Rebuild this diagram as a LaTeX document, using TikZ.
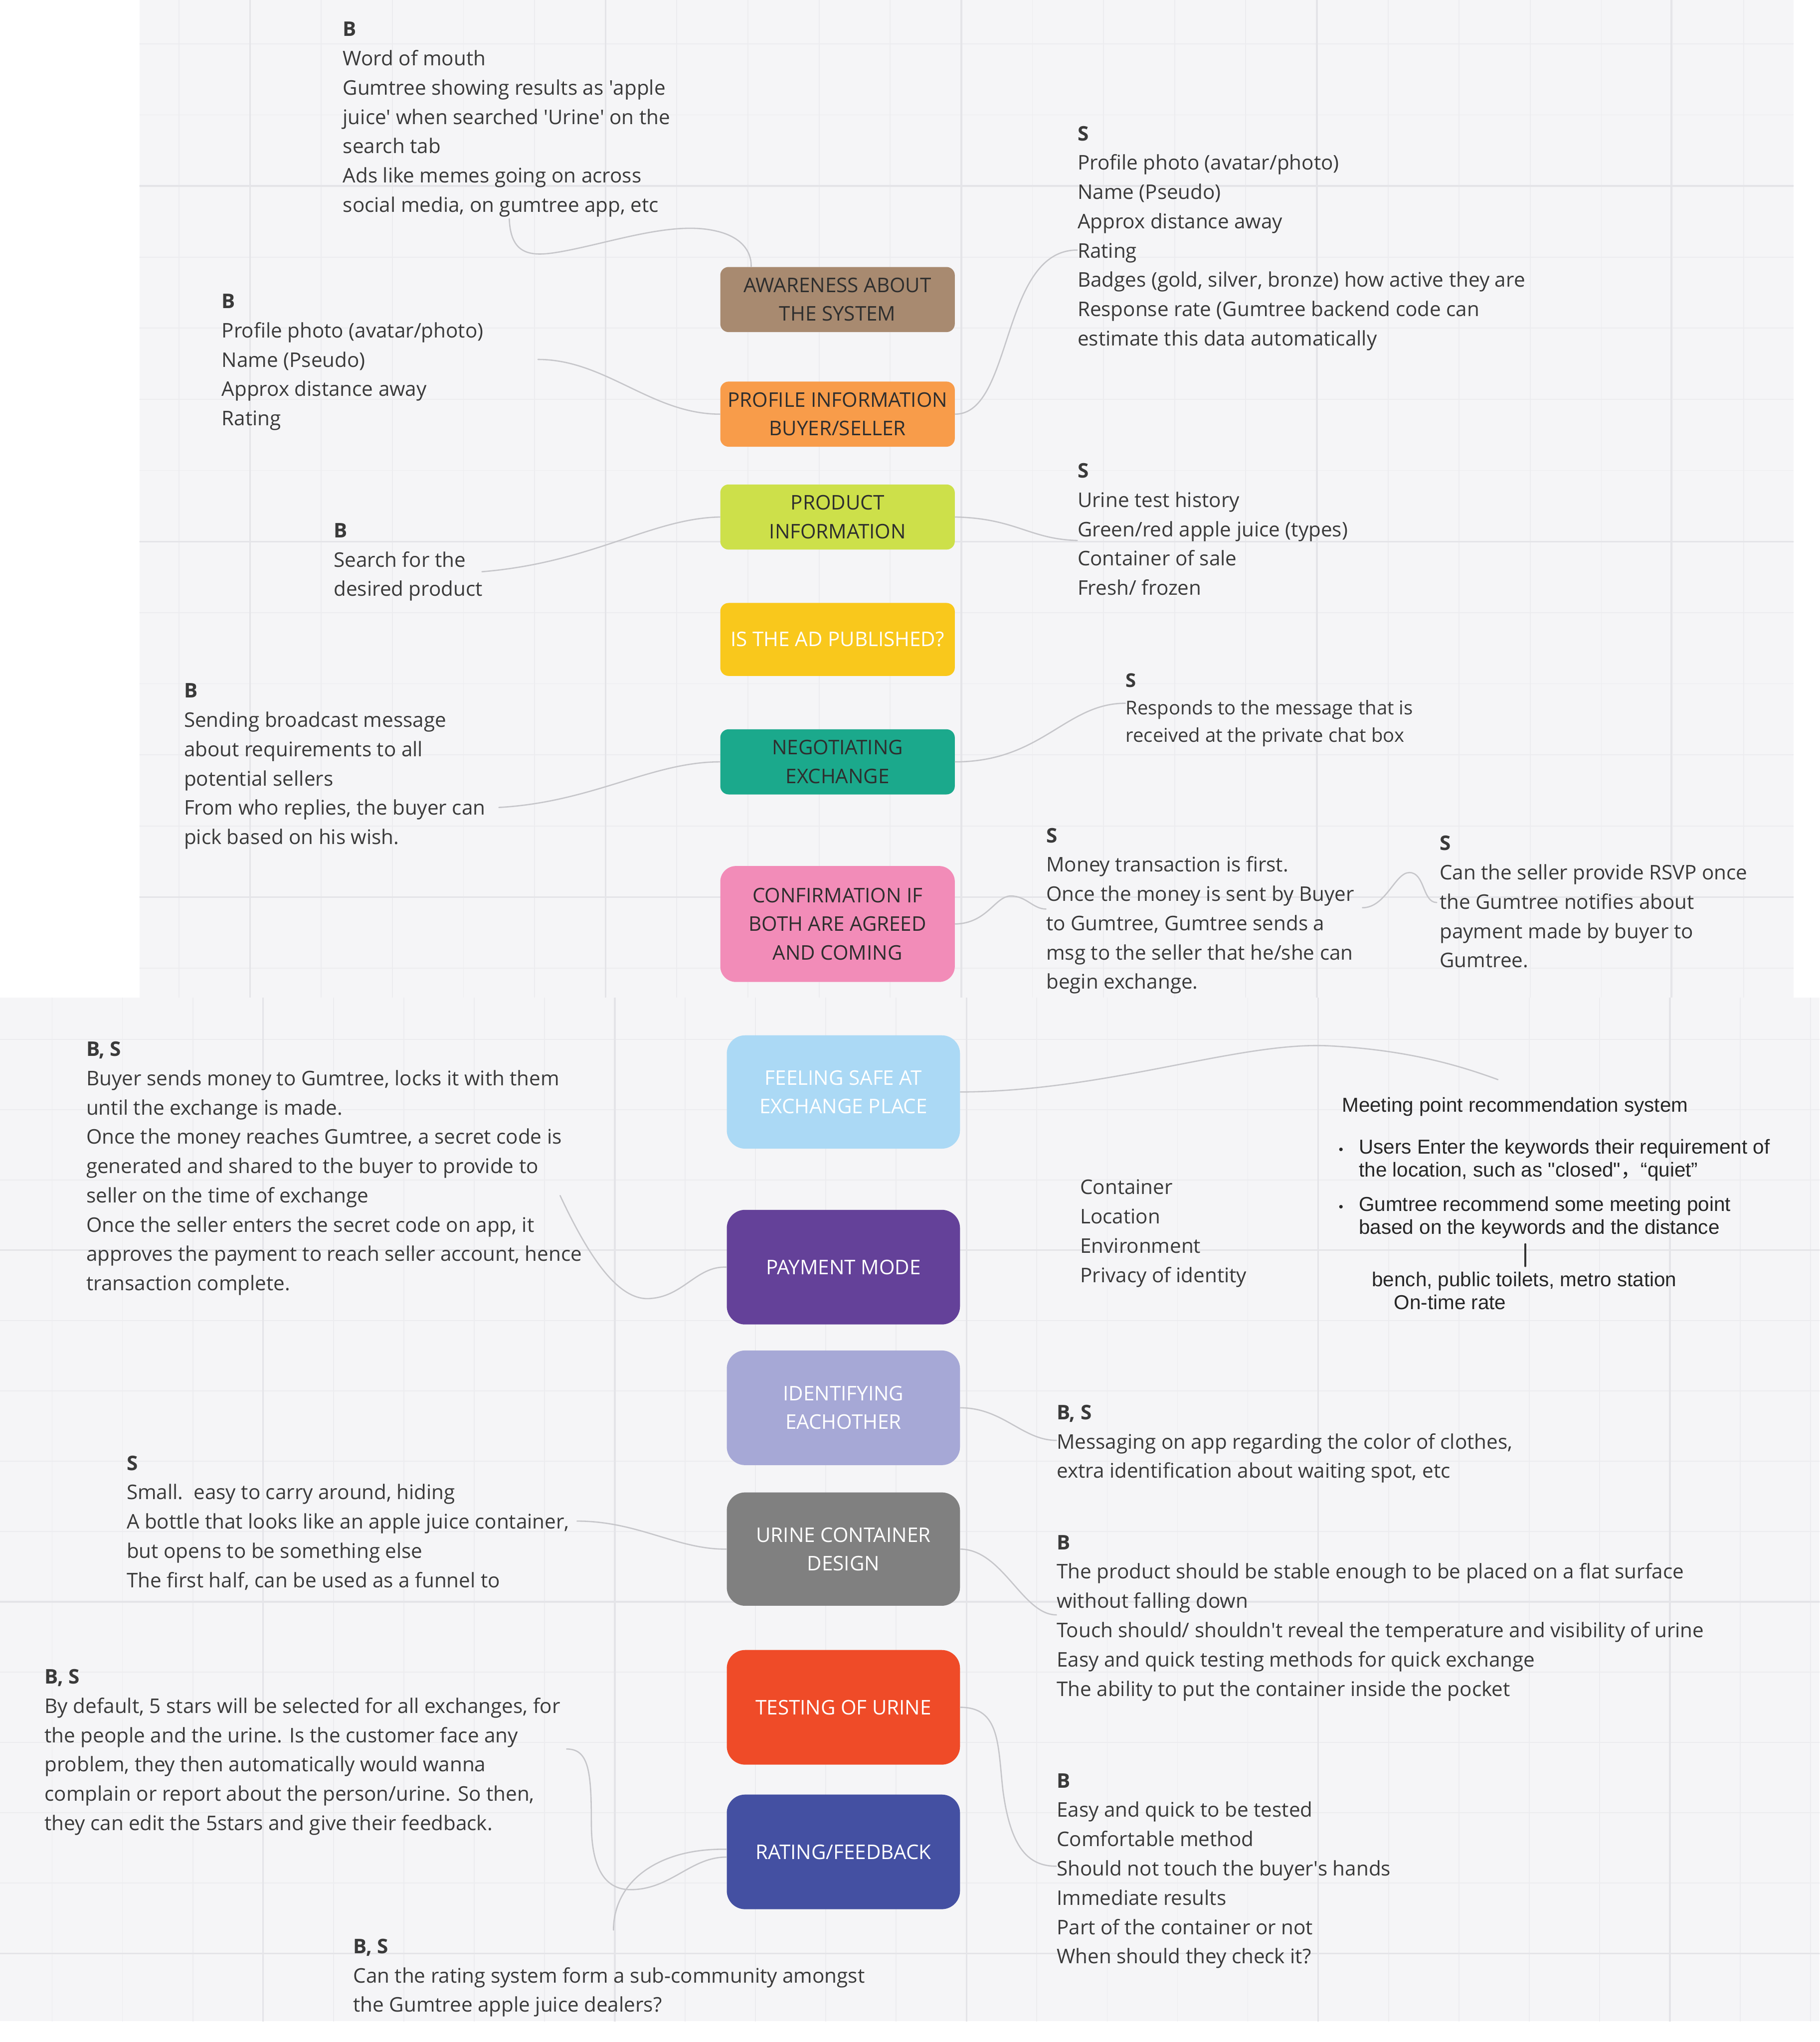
\documentclass[tikz,border=0pt]{standalone}
\usepackage{fontspec}
\setmainfont{Open Sans}
\newfontfamily\meetfont{Liberation Sans}
\newfontfamily\cjkfont{Noto Sans CJK SC}

\definecolor{canvas}{HTML}{F5F5F7}
\definecolor{gridminor}{HTML}{ECECEF}
\definecolor{gridmajor}{HTML}{E4E4E8}
\definecolor{linkgrey}{HTML}{C6C6CA}
\definecolor{bodytext}{HTML}{3A3A3A}
\definecolor{darklabel}{HTML}{2E2E2E}
\definecolor{cAware}{HTML}{A88A70}
\definecolor{cProfile}{HTML}{F89C4A}
\definecolor{cProduct}{HTML}{CDE04A}
\definecolor{cAd}{HTML}{F9C81C}
\definecolor{cNegot}{HTML}{1BA98C}
\definecolor{cConfirm}{HTML}{F28CB8}
\definecolor{cSafe}{HTML}{ABD9F5}
\definecolor{cPay}{HTML}{644199}
\definecolor{cIdent}{HTML}{A6A8D6}
\definecolor{cContainer}{HTML}{808080}
\definecolor{cTest}{HTML}{EF4B28}
\definecolor{cRating}{HTML}{4450A2}

\newcommand{\sqt}{\textquotesingle}

\begin{document}
\begin{tikzpicture}[x=0.025cm,y=-0.025cm,line cap=round,line join=round,
  stage/.style={rounded corners=0.16cm,minimum width=4.5cm,align=center,inner sep=0pt,text=darklabel,font=\fontsize{11}{15.6}\selectfont},
  bigstage/.style={stage,rounded corners=0.35cm,minimum width=4.475cm,text=white},
  note/.style={anchor=north west,align=left,inner sep=0pt,text=bodytext,font=\fontsize{11}{16}\selectfont},
  smallnote/.style={note,font=\fontsize{10.4}{15}\selectfont},
  meet/.style={anchor=north west,align=left,inner sep=0pt,text=black!85,font=\meetfont\fontsize{11}{12.5}\selectfont},
  link/.style={draw=linkgrey,line width=0.7pt},
  gridline/.style={draw=gridminor,line width=0.5pt},
  gridbold/.style={draw=gridmajor,line width=0.9pt}]
\useasboundingbox (0,0) rectangle (1397,1568);
\fill[white] (0,0) rectangle (1397,1568);

% board, upper part
\fill[canvas] (107,0) rectangle (1377,766);
\begin{scope}
\clip (107,0) rectangle (1377,766);
\foreach \i in {0,...,24} \draw[gridline] ({82.8+54.6*\i},0) -- ({82.8+54.6*\i},766);
\foreach \i in {0,...,13} \draw[gridline] (107,{33.6+54.6*\i}) -- (1377,{33.6+54.6*\i});
\foreach \gx in {192,465,738,1011,1283} \draw[gridbold] (\gx,0) -- (\gx,766);
\foreach \gy in {142.8,415.8,688.8} \draw[gridbold] (107,\gy) -- (1377,\gy);
\end{scope}

% board, lower part
\fill[canvas] (0,766) rectangle (1397,1552);
\begin{scope}
\clip (0,766) rectangle (1397,1552);
\foreach \i in {0,...,26} \draw[gridline] ({40+54*\i},766) -- ({40+54*\i},1552);
\foreach \i in {0,...,14} \draw[gridline] (0,{798+54*\i}) -- (1397,{798+54*\i});
\foreach \gx in {202,472,742,1012,1282} \draw[gridbold] (\gx,766) -- (\gx,1552);
\foreach \gy in {960,1230,1500} \draw[gridbold] (0,\gy) -- (1397,\gy);
\end{scope}

% stages
\node[stage,fill=cAware,minimum height=1.25cm] (aware) at (643,230) {AWARENESS ABOUT\\THE SYSTEM};
\node[stage,fill=cProfile,minimum height=1.25cm] (profile) at (643,318) {PROFILE INFORMATION\\BUYER/SELLER};
\node[stage,fill=cProduct,minimum height=1.25cm] (product) at (643,397) {PRODUCT\\INFORMATION};
\node[stage,fill=cAd,minimum height=1.4cm,text=white] (adpub) at (643,491) {IS THE AD PUBLISHED?};
\node[stage,fill=cNegot,minimum height=1.25cm] (negot) at (643,585) {NEGOTIATING\\EXCHANGE};
\node[stage,fill=cConfirm,minimum height=2.225cm,rounded corners=0.3cm] (confirm) at (643,709.5) {CONFIRMATION IF\\BOTH ARE AGREED\\AND COMING};
\node[bigstage,fill=cSafe,minimum height=2.175cm] (safe) at (647.5,838.5) {FEELING SAFE AT\\EXCHANGE PLACE};
\node[bigstage,fill=cPay,minimum height=2.2cm] (payment) at (647.5,973) {PAYMENT MODE};
\node[bigstage,fill=cIdent,minimum height=2.2cm] (ident) at (647.5,1081) {IDENTIFYING\\EACHOTHER};
\node[bigstage,fill=cContainer,minimum height=2.175cm] (container) at (647.5,1189.5) {URINE CONTAINER\\DESIGN};
\node[bigstage,fill=cTest,minimum height=2.2cm] (testing) at (647.5,1311) {TESTING OF URINE};
\node[bigstage,fill=cRating,minimum height=2.2cm] (rating) at (647.5,1422) {RATING/FEEDBACK};

% notes
\node[note] (awB) at (263,16.5) {\textbf{B}\\Word of mouth\\Gumtree showing results as \sqt apple\\juice\sqt{} when searched \sqt Urine\sqt{} on the\\search tab\\Ads like memes going on across\\social media, on gumtree app, etc};
\node[note] (profB) at (170,225.5) {\textbf{B}\\Profile photo (avatar/photo)\\Name (Pseudo)\\Approx distance away\\Rating};
\node[note] (profS) at (827,96.5) {\textbf{S}\\Profile photo (avatar/photo)\\Name (Pseudo)\\Approx distance away\\Rating\\Badges (gold, silver, bronze) how active they are\\Response rate (Gumtree backend code can\\estimate this data automatically};
\node[note] (prodB) at (256,401.5) {\textbf{B}\\Search for the\\desired product};
\node[note] (prodS) at (827,355.5) {\textbf{S}\\Urine test history\\Green/red apple juice (types)\\Container of sale\\Fresh/ frozen};
\node[note] (negB) at (141,524.5) {\textbf{B}\\Sending broadcast message\\about requirements to all\\potential sellers\\From who replies, the buyer can\\pick based on his wish.};
\node[smallnote] (negS) at (864,516.8) {\textbf{S}\\Responds to the message that is\\received at the private chat box};
\node[note] (confS) at (803,635.5) {\textbf{S}\\Money transaction is first.\\Once the money is sent by Buyer\\to Gumtree, Gumtree sends a\\msg to the seller that he/she can\\begin exchange.};
\node[note] (rsvpS) at (1105,641.5) {\textbf{S}\\Can the seller provide RSVP once\\the Gumtree notifies about\\payment made by buyer to\\Gumtree.};
\node[note] (envList) at (829,905.5) {Container\\Location\\Environment\\Privacy of identity};
\node[note] (payBS) at (66,799.5) {\textbf{B, S}\\Buyer sends money to Gumtree, locks it with them\\until the exchange is made.\\Once the money reaches Gumtree, a secret code is\\generated and shared to the buyer to provide to\\seller on the time of exchange\\Once the seller enters the secret code on app, it\\approves the payment to reach seller account, hence\\transaction complete.};
\node[note] (identBS) at (811,1078.5) {\textbf{B, S}\\Messaging on app regarding the color of clothes,\\extra identification about waiting spot, etc};
\node[note] (contS) at (97,1117.5) {\textbf{S}\\Small.\ \ easy to carry around, hiding\\A bottle that looks like an apple juice container,\\but opens to be something else\\The first half, can be used as a funnel to};
\node[note] (contB) at (811,1178.5) {\textbf{B}\\The product should be stable enough to be placed on a flat surface\\without falling down\\Touch should/ shouldn\sqt t reveal the temperature and visibility of urine\\Easy and quick testing methods for quick exchange\\The ability to put the container inside the pocket};
\node[note] (testB) at (811,1361.5) {\textbf{B}\\Easy and quick to be tested\\Comfortable method\\Should not touch the buyer\sqt s hands\\Immediate results\\Part of the container or not\\When should they check it?};
\node[note] (rateBS) at (34,1281.5) {\textbf{B, S}\\By default, 5 stars will be selected for all exchanges, for\\the people and the urine. Is the customer face any\\problem, they then automatically would wanna\\complain or report about the person/urine. So then,\\they can edit the 5stars and give their feedback.};
\node[note] (communityBS) at (271,1488.5) {\textbf{B, S}\\Can the rating system form a sub-community amongst\\the Gumtree apple juice dealers?};

% meeting point recommendation
\node[meet] (meetTitle) at (1030,842.5) {Meeting point recommendation system};
\node[meet] (meetOne) at (1043,874.5) {\llap{{\fontsize{7}{7}\selectfont\textbullet}\hspace{0.3cm}}Users Enter the keywords their requirement of\\the location, such as "closed"{\cjkfont ，}“quiet”};
\node[meet] (meetTwo) at (1043,918.5) {\llap{{\fontsize{7}{7}\selectfont\textbullet}\hspace{0.3cm}}Gumtree recommend some meeting point\\based on the keywords and the distance};
\node[meet] (meetPlaces) at (1053,976.5) {bench, public toilets, metro station\\\hspace*{0.425cm}On-time rate};
\coordinate (tick) at (1171,0);
\draw[line width=0.9pt,black!80,shorten <=3pt,shorten >=3pt] (meetTwo.south -| tick) -- (meetPlaces.north -| tick);

% links
\coordinate (awFoot) at (391,168);
\draw[link] (awFoot) .. controls (392,198) and (410,197) .. (432,193) .. controls (470,186) and (515,170) .. (548,177) .. controls (568,181) and (577,192) .. ([xshift=0.6cm]aware.north west);
\coordinate (profBend) at (413,276);
\draw[link] (profBend) .. controls (465,276) and (500,318) .. (profile.west);
\coordinate (profSend) at (827,192);
\draw[link] (profile.east) .. controls (778,318) and (768,192) .. (profSend);
\coordinate (prodBend) at (370,439);
\draw[link] (prodBend) .. controls (455,432) and (500,398) .. (product.west);
\coordinate (prodSend) at (827,415);
\draw[link] (product.east) .. controls (780,398) and (790,414) .. (prodSend);
\coordinate (negBend) at (383,620);
\draw[link] (negBend) .. controls (455,616) and (500,585) .. (negot.west);
\coordinate (negSend) at (864,540);
\draw[link] (negot.east) .. controls (800,585) and (818,540) .. (negSend);
\coordinate (confSend) at (803,698);
\draw[link] (confirm.east) .. controls (758,709) and (764,688) .. (776,688) .. controls (788,688) and (793,698) .. (confSend);
\coordinate (confSout) at (1046,697);
\coordinate (rsvpSend) at (1103,693);
\draw[link] (confSout) .. controls (1064,697) and (1071,670) .. (1082,670) .. controls (1094,670) and (1092,693) .. (rsvpSend);
\coordinate (safeEnd) at (1150,829);
\draw[link] (safe.east) .. controls (850,838) and (950,800) .. (1019,803) .. controls (1080,806) and (1120,818) .. (safeEnd);
\coordinate (payBend) at (430,918);
\draw[link] (payBend) .. controls (452,965) and (475,1000) .. (500,997) .. controls (525,995) and (535,972) .. (payment.west);
\coordinate (identEnd) at (811,1106);
\draw[link] (ident.east) .. controls (770,1081) and (785,1106) .. (identEnd);
\coordinate (contSend) at (443,1168);
\draw[link] (contSend) .. controls (490,1168) and (520,1190) .. (container.west);
\coordinate (contBend) at (811,1240);
\draw[link] (container.east) .. controls (770,1190) and (785,1240) .. (contBend);
\coordinate (testEnd) at (811,1433);
\draw[link] (testing.east) .. controls (768,1311) and (766,1340) .. (770,1375) .. controls (776,1420) and (790,1433) .. (testEnd);
\coordinate (rateBend) at (435,1343);
\draw[link] (rateBend) .. controls (452,1343) and (454,1360) .. (454,1400) .. controls (454,1440) and (468,1451) .. (484,1451) .. controls (515,1451) and (530,1426) .. ([yshift=-0.1cm]rating.west);
\coordinate (communityEnd) at (471,1482);
\draw[link] ([yshift=0.05cm]rating.west) .. controls (505,1419) and (471,1445) .. (communityEnd);
\end{tikzpicture}
\end{document}
